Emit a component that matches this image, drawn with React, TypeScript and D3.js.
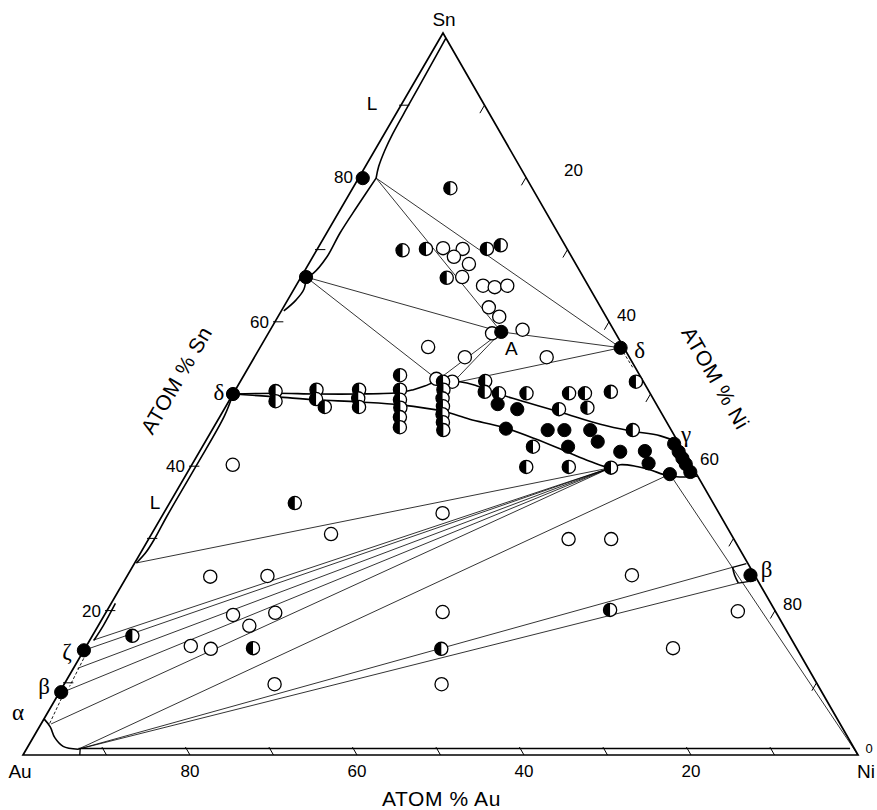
import React from 'react';
import * as d3 from 'd3';

const W = 877;
const H = 810;

// ---------- data: compositions as [atom% Sn, atom% Ni] ----------
const tickValues = [10, 20, 30, 40, 50, 60, 70, 80, 90];
const tickLabels = [20, 40, 60, 80];

const filledPts: number[][] = [
  [79.9, 0.5], [66.2, 0.6], [58.6, 27.8], [56.4, 43.2], [50.0, 0.0],
  [43.1, 56.3], [42.0, 57.4], [41.1, 58.3], [40.3, 59.1], [39.2, 60.2],
  [38.9, 57.9],
  [48.6, 32.4], [47.9, 35.1], [45.2, 35.1], [45.0, 40.2], [45.0, 42.2], [45.0, 45.3],
  [43.4, 47.0], [42.7, 43.8], [42.0, 50.4], [42.1, 53.3], [40.4, 54.6],
  [14.5, 0.0], [8.7, 0.2], [24.9, 74.6],
];

const halfPts: number[][] = [
  [78.5, 11.7], [69.9, 10.3], [70.1, 13.0], [70.1, 20.3], [70.6, 21.7], [66.1, 17.5],
  [50.4, 4.9], [49.0, 5.6], [50.6, 9.7], [49.3, 10.3], [48.2, 11.9],
  [50.6, 14.8], [49.4, 15.3], [48.2, 16.0],
  [52.6, 18.7], [50.6, 19.7], [49.2, 20.4], [48.1, 21.0], [46.8, 21.6], [45.4, 22.3],
  [51.7, 24.3], [50.6, 24.9], [49.4, 25.4], [48.3, 26.0], [47.2, 26.5], [46.1, 27.1], [45.0, 27.7],
  [51.8, 29.3], [50.3, 30.0], [50.1, 31.8], [50.1, 35.1], [50.1, 40.2], [50.1, 42.1],
  [50.3, 45.1], [51.7, 47.4], [47.9, 40.1], [48.1, 43.4], [45.0, 50.4], [42.7, 39.6],
  [39.9, 40.2], [39.9, 45.3], [39.8, 50.4],
  [34.9, 15.0], [16.5, 4.8], [14.8, 20.1], [14.7, 42.7], [20.1, 60.2],
];

const openPts: number[][] = [
  [70.2, 15.0], [70.1, 17.4], [69.0, 16.9], [68.0, 19.2], [66.2, 19.3], [65.0, 22.4],
  [64.8, 23.9], [65.0, 25.3], [62.0, 24.6], [60.7, 26.5], [58.4, 26.8], [58.9, 30.2],
  [56.5, 20.1], [55.1, 25.2], [55.1, 35.0], [52.1, 23.3], [51.7, 25.4],
  [40.2, 4.9], [30.6, 21.5], [33.5, 33.4], [24.7, 10.0], [24.8, 16.8], [19.4, 15.4],
  [19.7, 20.3], [17.9, 18.1], [15.1, 12.5], [14.7, 15.1], [19.8, 40.3], [9.8, 25.2],
  [9.8, 45.2], [29.9, 50.3], [29.9, 55.4], [24.9, 60.4], [19.9, 75.6], [14.8, 70.4],
];

// phase boundaries (heavy lines)
const liquidTop = [[99.3, 0.7], [95, 0.8], [90, 0.9], [86, 1.0], [83.8, 1.2], [81.5, 1.6], [79.9, 2.1]];
const liquidMid = [[79.9, 2.1], [75.9, 1.8], [72.3, 1.6], [69.0, 1.7], [66.7, 1.2], [66.2, 0.6]];
const liquidMidLow = [[66.2, 0.6], [64.5, 1.2], [63.0, 1.0], [61.5, 0.3]];
const liquidLow = [[50.0, 0.0], [47, 0.5], [40, 0.6], [33, 0.6], [30, 0.7], [28, 0.6], [26.6, 0.2]];
const zetaBand = [[21.0, 0.5], [18.0, 0.6], [15.9, 0.5]];
const bandUpper = [
  [50.0, 0.0], [50.1, 5.1], [50.0, 9.9], [50.0, 15.1], [50.2, 19.9], [50.6, 21.3], [51.1, 22.4],
  [51.7, 23.4], [51.8, 24.2], [51.7, 26.3], [51.2, 28.4], [50.4, 30.6], [49.4, 33.8],
  [47.5, 40.4], [45.8, 46.1], [44.9, 50.1], [44.2, 54.1], [43.2, 56.9],
];
const bandLower = [
  [50.0, 0.0], [49.6, 5.4], [49.2, 10.3], [48.9, 15.6], [48.5, 20.8], [47.6, 26.4], [46.5, 30.1],
  [45.4, 34.6], [43.8, 39.3], [42.0, 44.0], [40.7, 47.4], [39.8, 50.4], [40.2, 51.3],
  [40.0, 53.2], [39.5, 55.2], [38.7, 57.7], [38.5, 59.3], [38.6, 61.3],
];
const alphaCurve = [[5.0, 0.0], [3.9, 1.3], [2.4, 2.6], [1.2, 4.2], [0.8, 6.2]];
const baseBand = [[0.9, 6.2], [0.9, 98.6]];
const baseStub = [[0.9, 6.4], [0.0, 6.8]];
const betaTop = [[26.0, 71.9], [26.5, 73.3]];
const betaSide = [[26.0, 71.9], [24.9, 72.7], [23.8, 73.7]];
const betaBottom = [[23.8, 73.7], [24.2, 75.6]];

// tie lines (thin)
const tieLines: number[][][] = [
  [[79.9, 2.1], [56.4, 43.2]],
  [[79.9, 2.1], [58.6, 27.8]],
  [[66.2, 0.6], [58.6, 27.8]],
  [[66.2, 0.6], [52.1, 23.3]],
  [[58.6, 27.8], [56.4, 43.2]],
  [[58.6, 27.8], [51.9, 23.5]],
  [[58.6, 27.8], [51.5, 25.5]],
  [[56.4, 43.2], [51.5, 25.5]],
  [[26.6, 0.2], [39.8, 50.4]],
  [[15.9, 0.4], [39.8, 50.4]],
  [[14.5, 0.0], [39.8, 50.4]],
  [[12.0, 0.5], [39.8, 50.4]],
  [[8.9, 0.7], [39.8, 50.4]],
  [[4.3, 1.2], [39.8, 50.4]],
  [[0.8, 6.2], [38.9, 57.9]],
  [[0.8, 6.2], [26.0, 71.9]],
  [[0.8, 6.2], [23.8, 73.7]],
  [[38.9, 57.9], [0.0, 100.0]],
];
const dashedLines: number[][][] = [
  [[56.4, 43.2], [53.7, 46.0]],
  [[14.0, 0.5], [9.5, 0.8]],
  [[8.5, 0.6], [4.3, 1.0]],
];

// ---------- geometry via d3 scales ----------
const X0 = 23;
const niX = d3.scaleLinear().domain([0, 100]).range([0, 835]);
const snX = d3.scaleLinear().domain([0, 100]).range([0, 420]);
const snY = d3.scaleLinear().domain([0, 100]).range([755, 33]);
const pt = (c: number[]): [number, number] => [X0 + niX(c[1]) + snX(c[0]), snY(c[0])];

const curve = d3.line<number[]>().x((c) => pt(c)[0]).y((c) => pt(c)[1]).curve(d3.curveCatmullRom.alpha(0.5));
const straight = d3.line<number[]>().x((c) => pt(c)[0]).y((c) => pt(c)[1]);

const R = 6.6;
const SANS = "'Liberation Sans', Arial, Helvetica, sans-serif";
const SERIF = "'Liberation Serif', 'DejaVu Serif', serif";

export default function App() {
  const Au = pt([0, 0]);
  const Ni = pt([0, 100]);
  const Sn = pt([100, 0]);

  const heavy = { fill: 'none', stroke: '#000', strokeWidth: 1.6 } as const;
  const thin = { fill: 'none', stroke: '#000', strokeWidth: 0.8 } as const;

  const ticks: JSX.Element[] = [];
  tickValues.forEach((v) => {
    const a0 = pt([v, 0]), a1 = pt([v, 1.0]);
    ticks.push(<line key={`ts${v}`} x1={a0[0] - 2} y1={a0[1]} x2={a1[0]} y2={a1[1]} stroke="#000" strokeWidth={1} />);
    const b0 = pt([100 - v, v]), b1 = pt([100 - v - 1.1, v]);
    ticks.push(<line key={`tn${v}`} x1={b0[0]} y1={b0[1]} x2={b1[0]} y2={b1[1]} stroke="#000" strokeWidth={1} />);
    const c0 = pt([0, v]), c1 = pt([1.1, v - 1.1]);
    ticks.push(<line key={`ta${v}`} x1={c0[0]} y1={c0[1]} x2={c1[0]} y2={c1[1]} stroke="#000" strokeWidth={1} />);
  });

  const labels: JSX.Element[] = [];
  tickLabels.forEach((v) => {
    const a = pt([v, 0]);
    labels.push(<text key={`ls${v}`} x={a[0] - 6} y={a[1] + 6} textAnchor="end">{v}</text>);
    const b = pt([100 - v, v]);
    const extra = v === 20 ? 30 : 0;
    labels.push(<text key={`ln${v}`} x={b[0] + 8 + extra} y={b[1] - 1} textAnchor="start">{v}</text>);
    const c = pt([0, 100 - v]);
    labels.push(<text key={`la${v}`} x={c[0]} y={c[1] + 22} textAnchor="middle">{v}</text>);
  });

  const leftAngle = (Math.atan2(Sn[1] - Au[1], Sn[0] - Au[0]) * 180) / Math.PI;
  const rightAngle = (Math.atan2(Ni[1] - Sn[1], Ni[0] - Sn[0]) * 180) / Math.PI;

  const A = pt([58.6, 27.8]);
  const dR = pt([56.4, 43.2]);
  const dL = pt([50.0, 0.0]);
  const gam = pt([43.1, 56.3]);
  const bR = pt([24.9, 74.6]);
  const bL = pt([8.7, 0.2]);
  const zeta = pt([14.5, 0.0]);

  return (
    <svg width={W} height={H} style={{ position: 'absolute', left: 0, top: 0, background: '#fff' }}>
      <rect width={W} height={H} fill="#fff" />
      {tieLines.map((l, i) => (
        <path key={`t${i}`} d={straight(l) || ''} {...thin} />
      ))}
      {dashedLines.map((l, i) => (
        <path key={`dl${i}`} d={straight(l) || ''} fill="none" stroke="#000" strokeWidth={0.9} strokeDasharray="3,2" />
      ))}
      {[liquidTop, liquidMid, liquidMidLow, liquidLow, zetaBand, bandUpper, bandLower, alphaCurve, betaSide].map((c, i) => (
        <path key={`b${i}`} d={curve(c) || ''} {...heavy} />
      ))}
      {[baseBand, baseStub, betaTop, betaBottom].map((c, i) => (
        <path key={`s${i}`} d={straight(c) || ''} {...heavy} strokeWidth={1.3} />
      ))}
      <path d={`M${Au[0]},${Au[1]}L${Ni[0]},${Ni[1]}L${Sn[0]},${Sn[1]}Z`} fill="none" stroke="#000" strokeWidth={1.7} strokeLinejoin="miter" />
      {ticks}
      {openPts.map((c, i) => {
        const p = pt(c);
        return <circle key={`o${i}`} cx={p[0]} cy={p[1]} r={R} fill="#fff" stroke="#000" strokeWidth={1.3} />;
      })}
      {halfPts.map((c, i) => {
        const p = pt(c);
        return (
          <g key={`h${i}`} transform={`translate(${p[0]},${p[1]})`}>
            <circle r={R} fill="#fff" stroke="#000" strokeWidth={1.3} />
            <path d={`M0,${-R}A${R},${R} 0 0 0 0,${R}Z`} fill="#000" />
          </g>
        );
      })}
      {filledPts.map((c, i) => {
        const p = pt(c);
        return <circle key={`f${i}`} cx={p[0]} cy={p[1]} r={R} fill="#000" stroke="#000" strokeWidth={1} />;
      })}
      <g fontFamily={SANS} fontSize={17} fill="#000">
        {labels}
        <text x={Sn[0] + 1} y={Sn[1] - 7} textAnchor="middle" fontSize={19}>Sn</text>
        <text x={Au[0] - 3} y={Au[1] + 23} textAnchor="middle" fontSize={19}>Au</text>
        <text x={Ni[0] + 8} y={Ni[1] + 23} textAnchor="middle" fontSize={19}>Ni</text>
        <text x={Ni[0] + 11} y={Ni[1] - 2} textAnchor="middle" fontSize={13}>0</text>
        <text x={(Au[0] + Ni[0]) / 2 + 1} y={Au[1] + 51} textAnchor="middle" fontSize={21} letterSpacing={0.6}>ATOM % Au</text>
        <text transform={`translate(178,381) rotate(${leftAngle})`} textAnchor="middle" dominantBaseline="middle" fontSize={21} letterSpacing={0.6}>ATOM % Sn</text>
        <text transform={`translate(714,379) rotate(${rightAngle})`} textAnchor="middle" dominantBaseline="middle" fontSize={21} letterSpacing={0.6}>ATOM % Ni</text>
        <text x={372} y={110} textAnchor="middle" fontSize={19}>L</text>
        <text x={155} y={509} textAnchor="middle" fontSize={19}>L</text>
        <text x={A[0] + 10} y={A[1] + 23} textAnchor="middle" fontSize={19}>A</text>
      </g>
      <g fontFamily={SERIF} fontSize={23} fill="#000">
        <text x={dL[0] - 14} y={dL[1] + 6} textAnchor="middle">δ</text>
        <text x={dR[0] + 19} y={dR[1] + 10} textAnchor="middle">δ</text>
        <text x={gam[0] + 12} y={gam[1] - 2} textAnchor="middle">γ</text>
        <text x={bR[0] + 16} y={bR[1] + 2} textAnchor="middle">β</text>
        <text x={bL[0] - 17} y={bL[1] + 2} textAnchor="middle">β</text>
        <text x={zeta[0] - 17} y={zeta[1] + 9} textAnchor="middle">ζ</text>
        <text x={Au[0] - 5} y={Au[1] - 35} textAnchor="middle">α</text>
      </g>
    </svg>
  );
}
